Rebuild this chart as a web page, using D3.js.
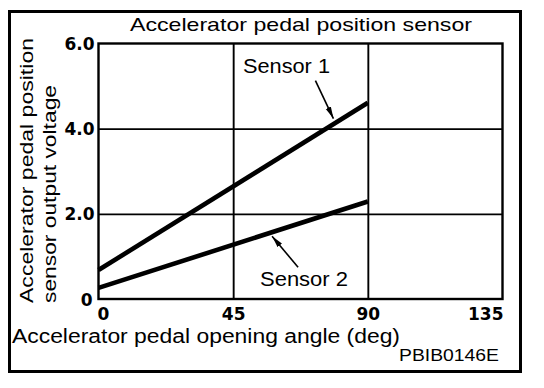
<!DOCTYPE html>
<html>
<head>
<meta charset="utf-8">
<script src="https://cdn.jsdelivr.net/npm/d3@7"></script>
<style>
  html, body { margin: 0; padding: 0; background: #fff; }
  svg { display: block; }
</style>
</head>
<body>
<svg id="chart" width="544" height="388"></svg>
<script>
// ---- data ----
const angles = [0, 90];               // accelerator pedal opening angle (deg)
const sensor1 = [0.68, 4.61];         // output voltage, Sensor 1
const sensor2 = [0.26, 2.29];         // output voltage, Sensor 2
const xTicks = [0, 45, 90, 135];
const yTicks = [0, 2, 4, 6];
const yTickLabels = ["0", "2.0", "4.0", "6.0"];
const seriesNames = ["Sensor 1", "Sensor 2"];
const titleText = "Accelerator pedal position sensor";
const xTitle = "Accelerator pedal opening angle (deg)";
const yTitle = ["Accelerator pedal position", "sensor output voltage"];
const figCode = "PBIB0146E";

// ---- layout ----
const svg = d3.select("#chart");
const W = 544, H = 388;
const L = 98.5, R = 502.5, T = 43.5, B = 299;
const x = d3.scaleLinear().domain([0, 135]).range([L, R]);
const y = d3.scaleLinear().domain([0, 6]).range([B, T]);
const sans = "'Liberation Sans', Arial, Helvetica, sans-serif";
const bold = "'DejaVu Sans', 'Liberation Sans', sans-serif";

svg.append("rect").attr("width", W).attr("height", H).attr("fill", "#fff");

// outer frame
svg.append("rect").attr("x", 9.5).attr("y", 11.5).attr("width", 511).attr("height", 360)
  .attr("fill", "none").attr("stroke", "#000").attr("stroke-width", 3);

// grid lines
const gx = svg.append("g").attr("transform", `translate(0,${B})`)
  .call(d3.axisBottom(x).tickValues([45, 90]).tickSize(-(B - T)).tickFormat(""));
gx.select(".domain").remove();
gx.selectAll("line").attr("stroke", "#000").attr("stroke-width", 1.9);

const gy = svg.append("g").attr("transform", `translate(${L},0)`)
  .call(d3.axisLeft(y).tickValues([2, 4]).tickSize(-(R - L)).tickFormat(""));
gy.select(".domain").remove();
gy.selectAll("line").attr("stroke", "#000").attr("stroke-width", 1.8);

// plot border
svg.append("rect").attr("x", L).attr("y", T).attr("width", R - L).attr("height", B - T)
  .attr("fill", "none").attr("stroke", "#000").attr("stroke-width", 2.4);

// x tick labels
const ax = svg.append("g").attr("transform", `translate(0,${B})`)
  .call(d3.axisBottom(x).tickValues(xTicks).tickSize(0).tickFormat(d3.format("d")));
ax.select(".domain").remove();
ax.selectAll("text")
  .attr("font-family", bold).attr("font-weight", "bold").attr("font-size", 17)
  .attr("fill", "#000").attr("y", 20.5).attr("dy", 0)
  .attr("text-anchor", (d, i) => i === 0 ? "start" : (i === xTicks.length - 1 ? "end" : "middle"))
  .attr("dx", (d, i) => i === 0 ? -1.5 : (i === xTicks.length - 1 ? 0.5 : 0));

// y tick labels
const ay = svg.append("g").attr("transform", `translate(${L},0)`)
  .call(d3.axisLeft(y).tickValues(yTicks).tickSize(0).tickFormat((d, i) => yTickLabels[i]));
ay.select(".domain").remove();
ay.selectAll("text")
  .attr("font-family", bold).attr("font-weight", "bold").attr("font-size", 17)
  .attr("fill", "#000").attr("x", d => d === 0 ? -6 : -4).attr("dy", "0.36em");

// series lines
const line = d3.line().x((d, i) => x(angles[i])).y(d => y(d));
[sensor1, sensor2].forEach(s => {
  svg.append("path").datum(s).attr("d", line)
    .attr("fill", "none").attr("stroke", "#000").attr("stroke-width", 4.6)
    .attr("stroke-linecap", "butt");
});

// arrow marker
svg.append("defs").append("marker")
  .attr("id", "ah").attr("markerUnits", "userSpaceOnUse")
  .attr("viewBox", "0 -4 12 8").attr("refX", 12).attr("refY", 0)
  .attr("markerWidth", 12).attr("markerHeight", 8).attr("orient", "auto")
  .append("path").attr("d", "M0,-2.8L12,0L0,2.8Z").attr("fill", "#000");

// annotations: tip on the series line, tail offset in pixels
function valAt(s, a) { return s[0] + (s[1] - s[0]) * (a - angles[0]) / (angles[1] - angles[0]); }
const annos = [
  { s: sensor1, a: 78.5, off: -5.5, tail: [-18, -38], label: seriesNames[0], lx: 243, ly: 73, lw: 87 },
  { s: sensor2, a: 58, off: 4, tail: [26, 31], label: seriesNames[1], lx: 260, ly: 286, lw: 88 }
];
annos.forEach(o => {
  const tx = x(o.a), ty = y(valAt(o.s, o.a)) + o.off;
  svg.append("line")
    .attr("x1", tx + o.tail[0]).attr("y1", ty + o.tail[1]).attr("x2", tx).attr("y2", ty)
    .attr("stroke", "#000").attr("stroke-width", 1.6).attr("marker-end", "url(#ah)");
  svg.append("text").attr("x", o.lx).attr("y", o.ly)
    .attr("font-family", sans).attr("font-size", 20).attr("fill", "#000")
    .attr("textLength", o.lw).attr("lengthAdjust", "spacingAndGlyphs")
    .text(o.label);
});

// title
svg.append("text").attr("x", 130).attr("y", 31)
  .attr("font-family", sans).attr("font-size", 17.8).attr("fill", "#000")
  .attr("textLength", 342).attr("lengthAdjust", "spacingAndGlyphs")
  .text(titleText);

// x axis title
svg.append("text").attr("x", 12).attr("y", 343)
  .attr("font-family", sans).attr("font-size", 19.5).attr("fill", "#000")
  .attr("textLength", 388).attr("lengthAdjust", "spacingAndGlyphs")
  .text(xTitle);

// figure code
svg.append("text").attr("x", 399).attr("y", 361)
  .attr("font-family", sans).attr("font-size", 16.5).attr("fill", "#000")
  .attr("textLength", 100).attr("lengthAdjust", "spacingAndGlyphs")
  .text(figCode);

// y axis title (two lines, rotated)
const yt = [
  { t: yTitle[0], bx: 33, len: 265 },
  { t: yTitle[1], bx: 55.5, len: 218 }
];
yt.forEach(o => {
  svg.append("text")
    .attr("transform", `translate(${o.bx},303) rotate(-90)`)
    .attr("x", 0).attr("y", 0)
    .attr("font-family", sans).attr("font-size", 18).attr("fill", "#000")
    .attr("textLength", o.len).attr("lengthAdjust", "spacingAndGlyphs")
    .text(o.t);
});
</script>
</body>
</html>
